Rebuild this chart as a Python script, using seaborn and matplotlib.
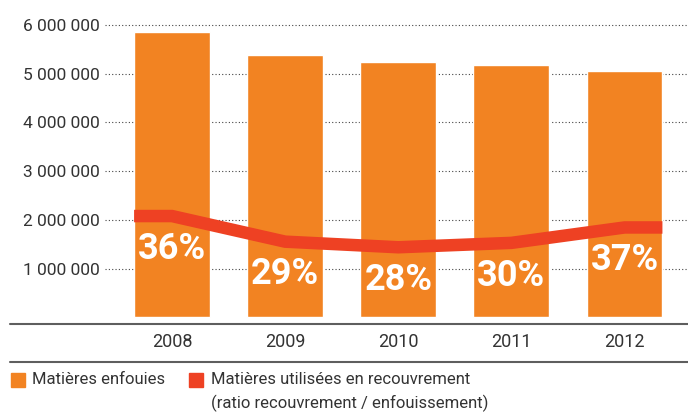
import matplotlib
matplotlib.use("Agg")
import matplotlib.pyplot as plt
import seaborn as sns
from matplotlib.patches import Rectangle
from matplotlib.lines import Line2D

# Data
years = ["2008", "2009", "2010", "2011", "2012"]
enfouies = [5856000, 5385000, 5240000, 5180000, 5056000]
recouvrement = [2080000, 1555000, 1440000, 1530000, 1846000]
ratio_labels = ["36%", "29%", "28%", "30%", "37%"]
ytick_values = [1000000, 2000000, 3000000, 4000000, 5000000, 6000000]
ytick_labels = ["1 000 000", "2 000 000", "3 000 000", "4 000 000", "5 000 000", "6 000 000"]

orange = "#F28322"
red = "#EE4123"
text_col = "#333333"
rule_col = "#5E5E5E"

sns.set_style("white")
plt.rcParams["font.family"] = ["Roboto", "DejaVu Sans"]

W, H = 688, 412
fig = plt.figure(figsize=(W / 100, H / 100), dpi=100)
ax = fig.add_axes([105 / W, 1 - 323 / H, 583 / W, 303 / H])

bar_w = 0.67
sns.barplot(x=years, y=enfouies, color=orange, saturation=1, width=bar_w, ax=ax, zorder=2)

# red line runs flat over the outer bars' edges
xs = [-bar_w / 2] + list(range(len(years))) + [len(years) - 1 + bar_w / 2]
ys = [recouvrement[0]] + recouvrement + [recouvrement[-1]]
sns.lineplot(x=xs, y=ys, sort=False, color=red, linewidth=9, ax=ax, zorder=3,
             solid_capstyle="butt", solid_joinstyle="miter")

for i, lab in enumerate(ratio_labels):
    ax.annotate(lab, (i, recouvrement[i]), xytext=(0, -23.5), textcoords="offset points",
                ha="center", va="center", color="white", fontsize=26, fontweight="bold", zorder=4)

ax.set_xlim(-0.592, 4.561)
ax.set_ylim(-113000, 6100000)
ax.set_yticks(ytick_values)
ax.set_yticklabels(ytick_labels)
ax.tick_params(axis="y", length=0, pad=4, labelsize=12.5, labelcolor=text_col)
ax.tick_params(axis="x", length=0, pad=7, labelsize=13, labelcolor=text_col)
ax.set_xlabel("")
ax.set_ylabel("")
ax.set_axisbelow(True)
ax.yaxis.grid(True, linestyle=(0, (1, 2)), linewidth=0.8, color="#444444")
ax.xaxis.grid(False)
for s in ax.spines.values():
    s.set_visible(False)

# horizontal rules above and below the year labels
for py in (324, 362):
    fig.add_artist(Line2D([10 / W, 1], [1 - py / H, 1 - py / H], color=rule_col, linewidth=1.5))

# legend
fig.add_artist(Rectangle((11 / W, 1 - 387 / H), 14 / W, 14 / H, color=orange, transform=fig.transFigure))
fig.text(32 / W, 1 - 380 / H, "Matières enfouies", fontsize=12, color=text_col, va="center")
fig.add_artist(Rectangle((189 / W, 1 - 387 / H), 14 / W, 14 / H, color=red, transform=fig.transFigure))
fig.text(211 / W, 1 - 380 / H, "Matières utilisées en recouvrement", fontsize=12, color=text_col, va="center")
fig.text(211 / W, 1 - 403 / H, "(ratio recouvrement / enfouissement)", fontsize=12, color=text_col, va="center")

fig.savefig("out.png", dpi=100)
